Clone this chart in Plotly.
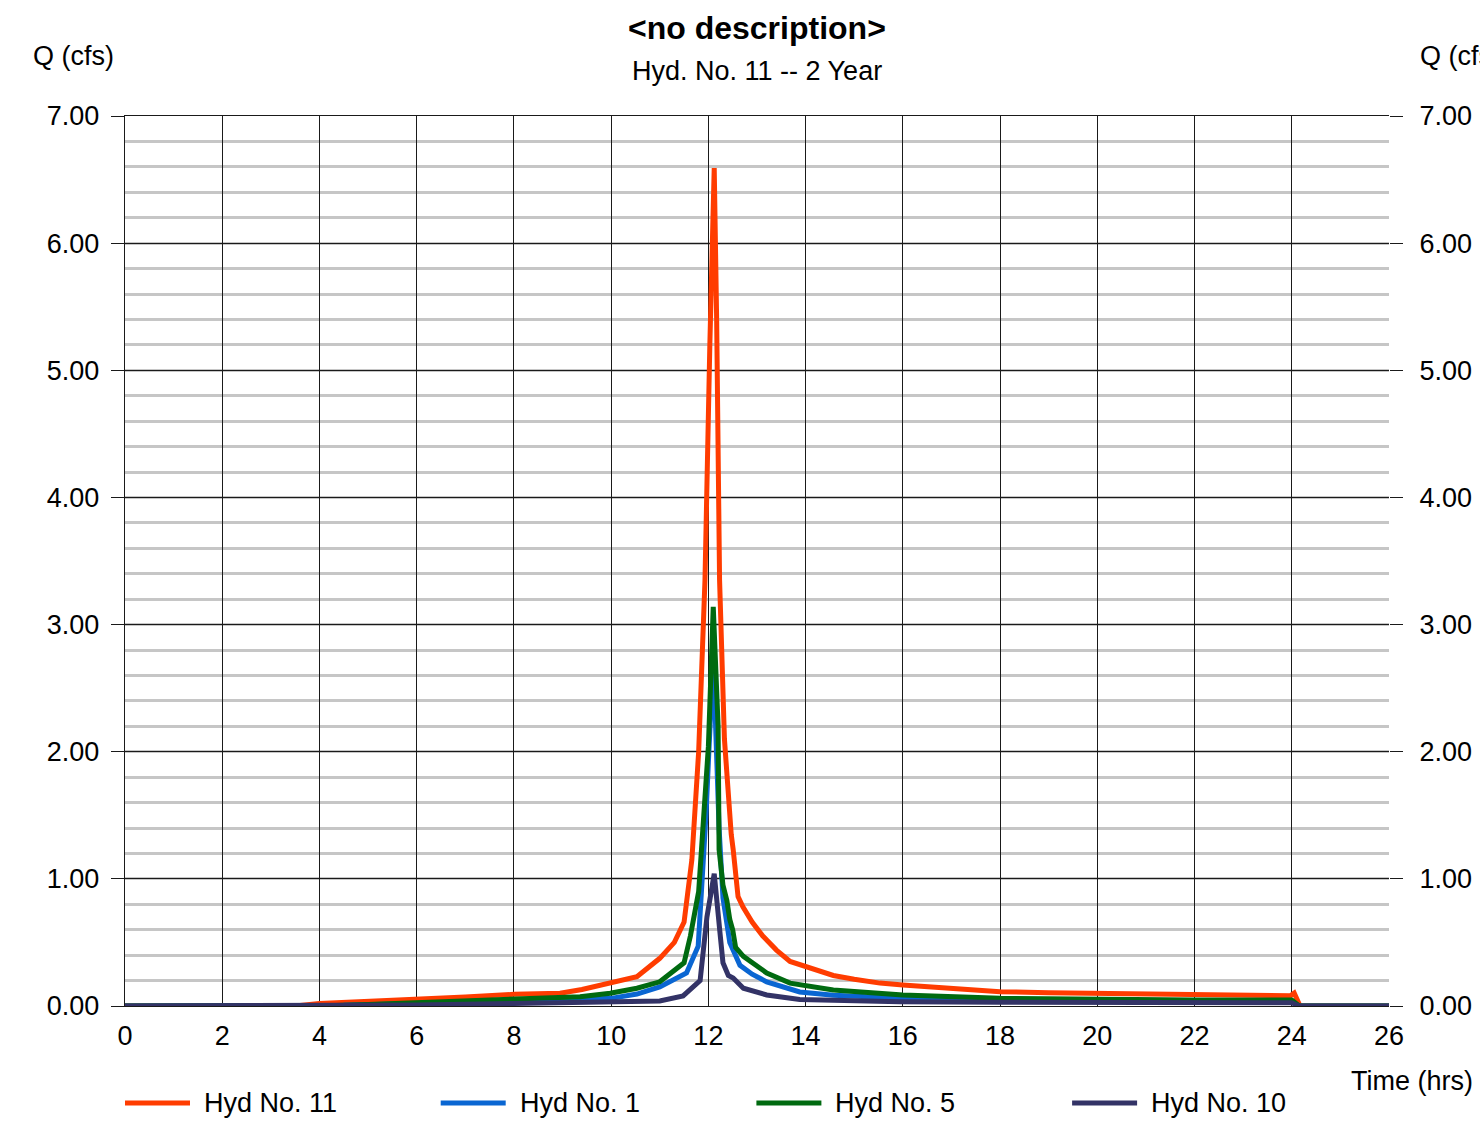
import plotly.graph_objects as go

# ---------------- data ----------------
t11 = [0, 2, 3.5, 4, 5, 6, 7, 8, 8.95, 9.4, 10, 10.53, 11.0, 11.3, 11.5, 11.6, 11.66,
       11.8, 11.93, 12.03, 12.12, 12.17, 12.23, 12.33, 12.44, 12.47, 12.51, 12.61, 12.71,
       12.9, 13.12, 13.4, 13.68, 14.0, 14.57, 15.0, 15.53, 16, 17, 18, 19, 20, 21, 22,
       23, 23.97, 24.05, 24.17, 25, 26]
q11 = [0, 0, 0, 0.02, 0.035, 0.052, 0.07, 0.092, 0.10, 0.13, 0.18, 0.23, 0.375, 0.5,
       0.66, 1.02, 1.15, 2.0, 3.35, 5.2, 6.59, 5.4, 3.35, 2.1, 1.41, 1.35, 1.23, 0.86,
       0.78, 0.66, 0.55, 0.44, 0.35, 0.31, 0.24, 0.21, 0.18, 0.165, 0.14, 0.113, 0.105,
       0.10, 0.093, 0.087, 0.084, 0.081, 0.102, 0, 0, 0]

t1 = [0, 2, 4, 4.5, 6, 8, 9, 10, 10.53, 11.0, 11.55, 11.79, 11.95, 12.1, 12.22, 12.3,
      12.44, 12.65, 12.9, 13.2, 13.88, 14.57, 16, 18, 20, 22, 24, 24.15, 26]
q1 = [0, 0, 0, 0.005, 0.02, 0.035, 0.045, 0.06, 0.094, 0.15, 0.26, 0.47, 1.5, 2.75,
      1.4, 0.85, 0.5, 0.32, 0.25, 0.19, 0.11, 0.085, 0.06, 0.045, 0.04, 0.037, 0.035, 0, 0]

t5 = [0, 2, 4, 5, 6, 7, 8, 8.95, 9.36, 9.98, 10.53, 11.0, 11.5, 11.63, 11.8, 12.0,
      12.1, 12.2, 12.22, 12.3, 12.38, 12.44, 12.5, 12.56, 12.72, 13.2, 13.68, 14.57,
      15.53, 16, 18, 20, 22, 24, 24.15, 26]
q5 = [0, 0, 0, 0.012, 0.025, 0.038, 0.052, 0.062, 0.073, 0.10, 0.14, 0.19, 0.34, 0.55,
      0.9, 2.04, 3.14, 2.2, 1.23, 0.95, 0.83, 0.68, 0.6, 0.46, 0.39, 0.26, 0.18, 0.126,
      0.094, 0.087, 0.06, 0.052, 0.047, 0.047, 0, 0]

t10 = [0, 2, 4, 5, 6, 8, 9.36, 10, 11, 11.48, 11.77, 11.83, 11.97, 12.12, 12.24, 12.3,
       12.41, 12.51, 12.72, 13.2, 13.88, 15.94, 18, 20, 22, 24, 24.15, 26]
q10 = [0, 0, 0, 0.002, 0.008, 0.02, 0.026, 0.03, 0.04, 0.079, 0.18, 0.2, 0.7, 1.04,
       0.57, 0.34, 0.24, 0.22, 0.14, 0.087, 0.052, 0.034, 0.03, 0.028, 0.027, 0.026, 0, 0]

series_names = ["Hyd No. 11", "Hyd No. 1", "Hyd No. 5", "Hyd No. 10"]
series_t = [t11, t1, t5, t10]
series_q = [q11, q1, q5, q10]
series_colors = ["#ff3c00", "#0a66d2", "#006a10", "#333366"]

x_ticks = list(range(0, 27, 2))
y_ticks = [0, 1, 2, 3, 4, 5, 6, 7]
y_labels = [f"{v:.2f}" for v in y_ticks]

title_text = "<no description>"
subtitle_text = "Hyd. No. 11 -- 2 Year"

# ---------------- figure ----------------
FONT = "Liberation Sans, Arial, Helvetica, sans-serif"
W, H = 1480, 1121
L, R, T, B = 125, 91, 116, 115
PW, PH = W - L - R, H - T - B
FS = 27

fig = go.Figure()
for name, tx, qy, col in zip(series_names, series_t, series_q, series_colors):
    fig.add_trace(go.Scatter(x=tx, y=qy, mode="lines", name=name, showlegend=False,
                             line=dict(color=col, width=5)))
# invisible trace for right axis
fig.add_trace(go.Scatter(x=[0, 26], y=[0, 7], yaxis="y2", mode="lines",
                         line=dict(width=0), showlegend=False, hoverinfo="skip"))

fig.update_layout(
    width=W, height=H,
    margin=dict(l=L, r=R, t=T, b=B, pad=0, autoexpand=False),
    paper_bgcolor="white", plot_bgcolor="white",
    font=dict(family=FONT, size=FS, color="black"),
    showlegend=False,
    xaxis=dict(range=[0, 26], tickvals=x_ticks, ticktext=[str(v) for v in x_ticks],
               showgrid=True, gridcolor="#1a1a1a", gridwidth=1.4,
               zeroline=False, showline=True, linecolor="#1a1a1a", linewidth=1.4,
               mirror=True, ticks="", tickfont=dict(size=FS), ticklabelstandoff=5),
    yaxis=dict(range=[0, 7], tickvals=y_ticks, ticktext=y_labels,
               showgrid=True, gridcolor="#1a1a1a", gridwidth=1.4,
               zeroline=False, showline=True, linecolor="#1a1a1a", linewidth=1.4,
               ticks="outside", ticklen=13, tickcolor="#1a1a1a", tickwidth=1.4,
               tickfont=dict(size=FS), ticklabelstandoff=6,
               minor=dict(dtick=0.2, showgrid=True, gridcolor="#c6c6c6", gridwidth=2.5)),
    yaxis2=dict(range=[0, 7], tickvals=y_ticks, ticktext=y_labels, overlaying="y",
                side="right", showgrid=False, zeroline=False,
                ticks="outside", ticklen=13, tickcolor="#1a1a1a", tickwidth=1.4,
                tickfont=dict(size=FS), ticklabelstandoff=11),
)

fig.add_annotation(text="<b>" + title_text.replace("<", "&lt;").replace(">", "&gt;") + "</b>",
                   xref="paper", yref="paper", x=0.5, y=1, yshift=88,
                   xanchor="center", yanchor="middle", showarrow=False,
                   font=dict(size=32, family=FONT))
fig.add_annotation(text=subtitle_text, xref="paper", yref="paper", x=0.5, y=1,
                   yshift=45, xanchor="center", yanchor="middle", showarrow=False,
                   font=dict(size=27, family=FONT))
fig.add_annotation(text="Q (cfs)", xref="paper", yref="paper", x=0, y=1,
                   xshift=-94, yshift=60, xanchor="left", yanchor="middle",
                   showarrow=False, font=dict(size=FS, family=FONT))
fig.add_annotation(text="Q (cfs)", xref="paper", yref="paper", x=1, y=1,
                   xshift=29, yshift=60, xanchor="left", yanchor="middle",
                   showarrow=False, font=dict(size=FS, family=FONT))
fig.add_annotation(text="Time (hrs)", xref="paper", yref="paper", x=1, y=0,
                   xshift=86, yshift=-75, xanchor="right", yanchor="middle",
                   showarrow=False, font=dict(size=FS, family=FONT))

# legend drawn as line samples + labels below the plot
leg_y = -(1103 - (H - B)) / PH
for i, (name, col) in enumerate(zip(series_names, series_colors)):
    x0 = (i * 315.7) / PW
    x1 = (i * 315.7 + 65) / PW
    fig.add_shape(type="line", xref="paper", yref="paper", x0=x0, x1=x1,
                  y0=leg_y, y1=leg_y, line=dict(color=col, width=5))
    fig.add_annotation(text=name, xref="paper", yref="paper", x=x1, y=leg_y,
                       xshift=12, xanchor="left", yanchor="middle", showarrow=False,
                       font=dict(size=FS, family=FONT))

fig.write_html("out.html", config={"displayModeBar": False},
               post_script="document.body.style.margin='0';")
